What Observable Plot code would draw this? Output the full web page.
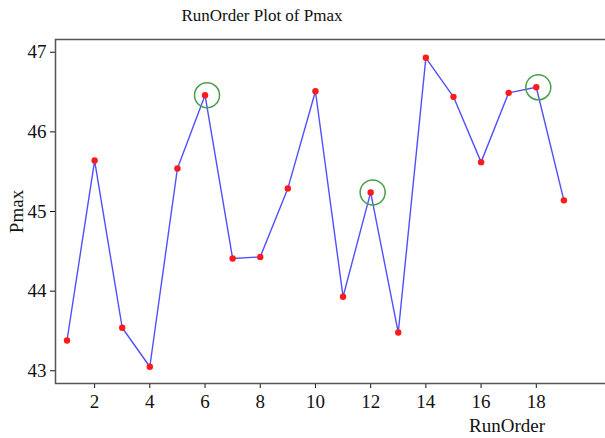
<!DOCTYPE html>
<html>
<head>
<meta charset="utf-8">
<script src="https://cdn.jsdelivr.net/npm/d3@7"></script>
<script src="https://cdn.jsdelivr.net/npm/@observablehq/plot@0.6"></script>
<style>
  html, body { margin: 0; padding: 0; background: #fff; }
  #wrap { position: relative; width: 605px; height: 438px; overflow: hidden; font-family: "Liberation Serif", "DejaVu Serif", serif; }
  #title { position: absolute; left: 0; top: 0; width: 524px; height: 30px; text-align: center; font-size: 17px; line-height: 1; padding-top: 7px; box-sizing: border-box; color: #111; }
  #chart { position: absolute; left: 0; top: 30px; width: 607px; }
  #chart svg { max-width: none !important; }
  #chart svg, #chart svg text, #chart svg g { font-family: "Liberation Serif", "Times New Roman", serif !important; font-variant: normal !important; }
  #xlabel { position: absolute; left: 447px; width: 120px; top: 416px; text-align: center; font-size: 19px; line-height: 1; color: #111; }
</style>
</head>
<body>
<div id="wrap">
  <div id="title">RunOrder Plot of Pmax</div>
  <div id="chart"></div>
  <div id="xlabel">RunOrder</div>
</div>
<script>
const runOrder = [1, 2, 3, 4, 5, 6, 7, 8, 9, 10, 11, 12, 13, 14, 15, 16, 17, 18, 19];
const pmax = [43.38, 45.64, 43.54, 43.05, 45.54, 46.46, 44.41, 44.43, 45.29, 46.51, 43.93, 45.24, 43.48, 46.93, 46.44, 45.62, 46.49, 46.56, 45.14];
const circled = [6, 12, 18];
const xTicks = [2, 4, 6, 8, 10, 12, 14, 16, 18];
const yTicks = [43, 44, 45, 46, 47];

const data = runOrder.map((r, i) => ({RunOrder: r, Pmax: pmax[i]}));
const marked = data.filter(d => circled.includes(d.RunOrder));

const chart = Plot.plot({
  width: 607,
  height: 408,
  marginTop: 9,
  marginLeft: 55,
  marginRight: 0,
  marginBottom: 55,
  style: {fontFamily: "Liberation Serif, serif", fontSize: "19px", color: "#111", background: "#fff", maxWidth: "none"},
  x: {domain: [0.583, 20.58], ticks: xTicks, tickSize: 5, tickPadding: 6, tickFormat: d => String(d), label: null},
  y: {domain: [42.84, 47.16], ticks: yTicks, tickSize: 5, tickPadding: 4, tickFormat: d => String(d), label: "Pmax", labelArrow: false, labelAnchor: "center", labelOffset: 46},
  marks: [
    Plot.frame({stroke: "#555", strokeWidth: 1.5}),
    Plot.line(data, {x: "RunOrder", y: "Pmax", stroke: "#5050ff", strokeWidth: 1.4}),
    Plot.dot(data, {x: "RunOrder", y: "Pmax", r: 3.2, fill: "#ff1a1a", stroke: "none"}),
    Plot.dot(marked, {x: "RunOrder", y: "Pmax", r: 12.5, stroke: "#4a9e4a", strokeWidth: 1.5, fill: "none", dx: 2})
  ]
});
document.getElementById("chart").appendChild(chart);
</script>
</body>
</html>
